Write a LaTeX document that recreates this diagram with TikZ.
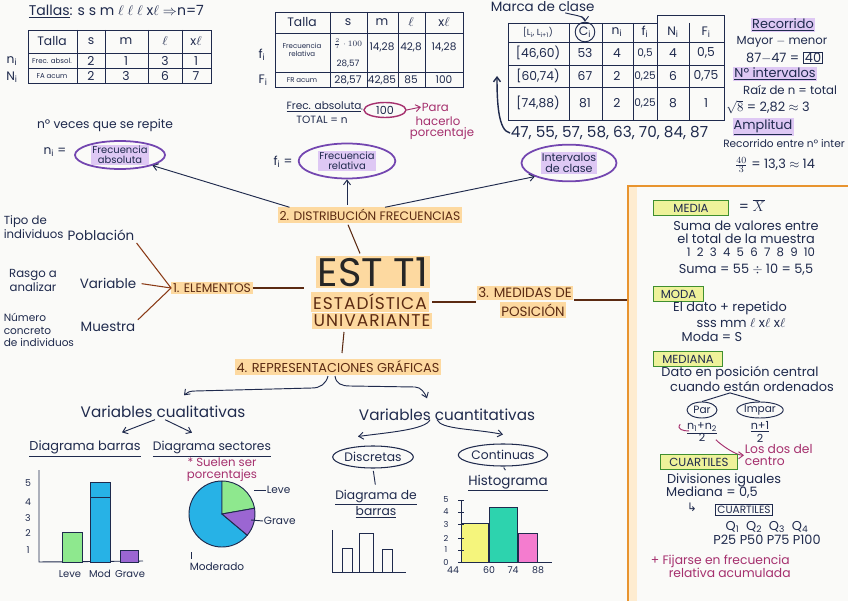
\documentclass[tikz,border=0pt]{standalone}
\usepackage{fontspec}
\setmainfont{Poppins}
\newfontfamily\symfont{DejaVu Sans}
\usetikzlibrary{calc,positioning,shapes.geometric,arrows.meta}

\definecolor{paper}{HTML}{FAFAF8}
\definecolor{inkc}{HTML}{1F2A4D}
\definecolor{brownc}{HTML}{5B2A12}
\definecolor{linec}{HTML}{8A3A16}
\definecolor{hlo}{HTML}{FDD9A0}
\definecolor{purc}{HTML}{7346B0}
\definecolor{purhl}{HTML}{DEC8F4}
\definecolor{pinkc}{HTML}{A5306E}
\definecolor{keyfill}{HTML}{EEF29A}
\definecolor{keyline}{HTML}{3F8F30}
\definecolor{framec}{HTML}{E8942F}
\definecolor{barg}{HTML}{8EE88E}
\definecolor{barb}{HTML}{27B2E6}
\definecolor{barp}{HTML}{9B66D2}
\definecolor{bary}{HTML}{F5F57C}
\definecolor{bart}{HTML}{2DD3AE}
\definecolor{barpk}{HTML}{F47CCF}

\begin{document}
\begin{tikzpicture}[x=0.03cm, y=-0.03cm,
  ink/.style={text=inkc, inner sep=0.5pt, font=\fontsize{10}{12}\selectfont},
  big/.style={ink, font=\fontsize{13}{14}\selectfont},
  boxt/.style={ink, font=\fontsize{11}{12}\selectfont},
  cell/.style={ink, font=\fontsize{10.5}{11}\selectfont},
  tiny/.style={ink, font=\fontsize{6}{6.5}\selectfont, align=center},
  tab/.style={draw=inkc, line width=0.7pt},
  tag/.style={text=brownc, fill=hlo, inner sep=1.5pt, font=\fontsize{10.5}{11}\selectfont},
  bubble/.style={ellipse, draw=purc, line width=1.5pt, inner sep=0pt},
  hlp/.style={ink, fill=purhl, inner sep=1pt},
  note/.style={text=pinkc, inner sep=0.5pt, font=\fontsize{10}{10.5}\selectfont, align=center},
  keybox/.style={draw=keyline, fill=keyfill, line width=0.9pt, text=inkc, inner sep=2pt,
    font=\fontsize{10}{10}\selectfont, anchor=west, minimum height=0.45cm},
  arr/.style={draw=inkc, line width=0.8pt, -{Straight Barb[length=4pt,width=6pt]}},
  parr/.style={arr, draw=pinkc},
  link/.style={draw=linec, line width=0.9pt},
  bar/.style={draw=inkc, line width=0.8pt}
]
\useasboundingbox (0,0) rectangle (848,601);
\fill[paper] (0,0) rectangle (848,601);

% Tallas and table of absolute frequencies
\node[ink, anchor=west, font=\fontsize{12}{13}\selectfont] (tallas) at (28,12) {\underline{Tallas}: s s m $\ell$ $\ell$ $\ell$ x$\ell$ $\Rightarrow$n=7};
\draw[tab] (28,30) rectangle (211,83);
\foreach \y in {53,68} \draw[tab] (28,\y) -- (211,\y);
\foreach \x in {77,105,148,182} \draw[tab] (\x,30) -- (\x,83);
\node[cell] (t1h) at (52,41) {Talla};
\node[tiny] (t1a) at (52,61) {Frec. absol.};
\node[tiny] (t1b) at (52,76) {FA acum};
\foreach \x/\lab/\va/\vb in {91/s/2/2,126/m/1/3,165/$\ell$/3/6,196/x$\ell$/1/7} {
  \node[cell] (t1h\x) at (\x,41) {\lab};
  \node[cell] (t1a\x) at (\x,61) {\va};
  \node[cell] (t1b\x) at (\x,76) {\vb};
}
\node[cell] (ni1) at (12,61) {n\textsubscript{i}};
\node[cell] (Ni1) at (12,77) {N\textsubscript{i}};

% Table of relative frequencies
\draw[tab] (275,12) rectangle (463,87);
\foreach \y in {33,72} \draw[tab] (275,\y) -- (463,\y);
\foreach \x in {330,367,398,425} \draw[tab] (\x,12) -- (\x,87);
\node[cell] (t2h) at (302,22) {Talla};
\foreach \x/\lab in {348/s,382/m,411/$\ell$,444/x$\ell$} \node[cell] (t2h\x) at (\x,22) {\lab};
\node[tiny] (t2a) at (302,50) {Frecuencia\\relativa};
\node[tiny, font=\fontsize{7.5}{8}\selectfont] (t2frac) at (348,44) {$\frac{2}{7}\cdot100$};
\node[tiny, font=\fontsize{7.5}{8}\selectfont] (t2s) at (348,64) {28,57};
\foreach \x/\lab in {382/{14,28},411/{42,8},444/{14,28}} \node[cell, font=\fontsize{9}{10}\selectfont] (t2a\x) at (\x,47) {\lab};
\node[tiny] (t2b) at (302,80) {FR acum};
\foreach \x/\lab in {348/{28,57},382/{42,85},411/85,444/100} \node[cell, font=\fontsize{9}{10}\selectfont] (t2b\x) at (\x,80) {\lab};
\node[cell] (fi1) at (262,55) {f\textsubscript{i}};
\node[cell] (Fi1) at (263,80) {F\textsubscript{i}};
\node[ink, font=\fontsize{9}{10}\selectfont] (fabs) at (324,107) {\underline{Frec. absoluta}};
\node[ink, font=\fontsize{9}{10}\selectfont] (ftot) at (322,120) {TOTAL = n};
\node[ink] (punto) at (362,110) {$\cdot$};
\node[ellipse, draw=pinkc, line width=1.2pt, inner sep=1pt, minimum width=1.26cm, minimum height=0.45cm, text=inkc, font=\fontsize{9.5}{10}\selectfont] (cien) at (385,110) {100};
\node[note, anchor=west] (para) at (421,107) {Para};
\node[note] (hacer) at (438,121) {hacerlo};
\node[note] (porc) at (442,134) {porcentaje};
\draw[parr] (cien.east) -- (para.west);

% Table of class intervals
\draw[tab] (508,23) -- (657,23);
\draw[tab] (657,15) -- (724,15);
\draw[tab] (508,23) -- (508,120) -- (724,120) -- (724,15);
\foreach \y in {42,65,87} \draw[tab] (508,\y) -- (724,\y);
\foreach \x in {569,602,633,689} \draw[tab] (\x,23) -- (\x,120);
\draw[tab] (657,15) -- (657,120);
\node[tiny, font=\fontsize{7.5}{8}\selectfont] (h1) at (538,32) {[L\textsubscript{i}, L\textsubscript{i+1})};
\node[cell, circle, draw=inkc, line width=0.8pt, inner sep=1pt] (ci) at (585,32) {C\textsubscript{i}};
\foreach \x/\lab in {617/n,645/f,673/N,706/F} \node[cell] (h\x) at (\x,32) {\lab\textsubscript{i}};
\foreach \y/\va/\vb/\vc/\vd/\ve/\vf in {53/{[46,60)}/53/4/{0,5}/4/{0,5},76/{[60,74)}/67/2/{0,25}/6/{0,75},103/{[74,88)}/81/2/{0,25}/8/1} {
  \node[cell] (ra\y) at (538,\y) {\va};
  \node[cell] (rb\y) at (585,\y) {\vb};
  \node[cell] (rc\y) at (617,\y) {\vc};
  \node[cell, font=\fontsize{9}{10}\selectfont] (rd\y) at (645,\y) {\vd};
  \node[cell] (re\y) at (673,\y) {\ve};
  \node[cell] (rf\y) at (706,\y) {\vf};
}
\node[ink, anchor=west, font=\fontsize{11.5}{12}\selectfont] (marca) at (490,7) {Marca de clase};
\draw[arr] ($(marca.south east)+(-30,0)$) .. controls +(6,2) and +(0,-6) .. (ci.north);
\node[ink, anchor=west, font=\fontsize{13}{14}\selectfont] (datos) at (510,133) {47, 55, 57, 58, 63, 70, 84, 87};
\coordinate (tab3) at (497,76);
\draw[arr, line width=1.2pt] (datos.west) .. controls +(-12,-2) and +(0,25) .. (tab3);

% Recorrido, intervals and amplitude
\node[hlp, font=\fontsize{11}{12}\selectfont] (reco) at (783,25) {\underline{Recorrido}};
\node[ink] (mayor) at (782,42) {Mayor $-$ menor};
\node[ink, anchor=east, font=\fontsize{11}{12}\selectfont] (resta) at (800,58) {87$-$47 =};
\node[ink, draw=inkc, line width=0.8pt, inner sep=1pt, font=\fontsize{11}{12}\selectfont] (cuar) at (813,58) {40};
\node[hlp, font=\fontsize{11}{12}\selectfont] (nint) at (775,74) {\underline{Nº intervalos}};
\node[ink] (raiz) at (790,90) {Raíz de n = total};
\node[ink, font=\fontsize{11}{12}\selectfont] (sq) at (768,107) {$\sqrt{8}$ = 2,82 $\approx$ 3};
\node[hlp, font=\fontsize{11}{12}\selectfont] (ampl) at (763,127) {\underline{Amplitud}};
\node[ink, font=\fontsize{9}{10}\selectfont] (rentre) at (784,144) {Recorrido entre nº inter};
\node[ink, font=\fontsize{11}{12}\selectfont] (divi) at (775,165) {$\frac{40}{3}$ = 13,3 $\approx$ 14};

% Purple bubbles
\node[ink, font=\fontsize{10.5}{12}\selectfont] (veces) at (105,125) {nº veces que se repite};
\node[cell] (nieq) at (55,152) {n\textsubscript{i} =};
\node[bubble, minimum width=2.7cm, minimum height=0.84cm] (niE) at (120,155) {};
\node[hlp, font=\fontsize{8.5}{8.5}\selectfont, align=center] (niT) at (niE) {Frecuencia\\absoluta};
\node[cell] (fieq) at (283,162) {f\textsubscript{i} =};
\node[bubble, minimum width=2.9cm, minimum height=1.05cm] (fiE) at (347,161) {};
\node[hlp, font=\fontsize{8.5}{8.5}\selectfont, align=center] (fiT) at (fiE) {Frecuencia\\relativa};
\node[bubble, minimum width=2.85cm, minimum height=1.1cm] (intE) at (569,163) {};
\node[hlp, font=\fontsize{9.5}{9.5}\selectfont, align=center] (intT) at (intE) {Intervalos\\de clase};

% Centre of the map
\node[tag] (dist) at (370,215) {2. DISTRIBUCIÓN FRECUENCIAS};
\draw[arr] ($(dist.north west)+(12,0)$) -- (niE.south east);
\draw[arr, shorten <=2pt] (dist.north -| fiE.south) -- (fiE.south);
\draw[arr] ($(dist.north)+(15,0)$) -- (intE.south west);
\node[tag, font=\fontsize{34}{34}\selectfont, text=black!85] (est) at (373,272) {EST T1};
\node[tag, font=\fontsize{14.5}{14}\selectfont\addfontfeature{LetterSpace=6}] (esta) at (370,302) {ESTADÍSTICA};
\node[tag, font=\fontsize{14.5}{14}\selectfont\addfontfeature{LetterSpace=6}] (univ) at (372,321) {UNIVARIANTE};
\draw[link, draw=brownc] ($(dist.south)+(-22,2)$) -- ($(est.north)+(-13,-2)$);
\node[tag] (elem) at (212,288) {1. ELEMENTOS};
\draw[link, draw=brownc, shorten >=6pt] (elem.east) -- (elem.east -| esta.west);
\node[tag, font=\fontsize{11.5}{12}\selectfont] (medid) at (525,293) {3. MEDIDAS DE};
\node[tag, font=\fontsize{11.5}{12}\selectfont] (posic) at (533,310) {POSICIÓN};
\draw[link, draw=brownc, shorten <=3pt] (esta.east) -- (esta.east -| medid.west);
\coordinate (frame) at (628,186);
\draw[link, draw=brownc] (medid.south east) -- (medid.south east -| frame);
\node[tag, font=\fontsize{11}{12}\selectfont] (repr) at (338,367) {4. REPRESENTACIONES GRÁFICAS};
\draw[link, draw=brownc] ($(univ.south)+(-28,3)$) -- ($(repr.north)+(4,-6)$);

% Elements
\node[ink, align=left, anchor=west] (tipo) at (3,227) {Tipo de\\individuos};
\node[ink, font=\fontsize{11.5}{12}\selectfont] (pob) at (101,235) {Población};
\node[ink, align=center] (rasgo) at (33,280) {Rasgo a\\analizar};
\node[ink, font=\fontsize{11.5}{12}\selectfont] (var) at (108,283) {Variable};
\node[ink, align=left, anchor=west, font=\fontsize{9}{11}\selectfont] (num) at (3,330) {Número\\concreto\\de individuos};
\node[ink, font=\fontsize{11.5}{12}\selectfont] (mues) at (108,327) {Muestra};
\draw[link, shorten <=2pt] (pob.south east) -- (elem.west);
\draw[link, shorten <=4pt] (var.east) -- (elem.west);
\draw[link, shorten <=2pt] (mues.north east) -- (elem.west);

% Graphic representations
\node[big] (cual) at (163,412) {Variables cualitativas};
\node[big] (cuan) at (447,415) {Variables cuantitativas};
\draw[arr] ($(repr.south)+(-10,1)$) .. controls +(-2,8) and +(8,0) .. (312,388) -- (195,391) .. controls +(-5,0) and +(3,-3) .. ($(cual.north)+(21,-10)$);
\draw[arr] ($(repr.south)+(-3,1)$) .. controls +(1,8) and +(-8,0) .. (350,386) -- (415,387) .. controls +(6,0) and +(-2,-5) .. ($(cuan.north)+(-20,-10)$);
\node[ink, font=\fontsize{11}{12}\selectfont] (barT) at (85,449) {\underline{Diagrama barras}};
\node[ink, font=\fontsize{10.5}{12}\selectfont] (secT) at (212,449) {\underline{Diagrama sectores}};
\draw[arr] ($(cual.south)+(-8,1)$) -- ($(barT.north)+(37,-8)$);
\draw[arr] ($(cual.south)+(2,1)$) -- ($(secT.north)+(-20,-8)$);

% Bar chart
\draw[bar] (39,470) -- (39,562) -- (143,561);
\foreach \v/\y in {1/550,2/533,3/518,4/502,5/483} \node[ink, font=\fontsize{8}{9}\selectfont] (ya\v) at (28,\y) {\v};
\filldraw[bar, fill=barg] (62,562) rectangle (82,532);
\filldraw[bar, fill=barb] (90,562) rectangle (110,482);
\draw[bar] (90,497) -- (110,497);
\filldraw[bar, fill=barp] (120,562) rectangle (138,550);
\foreach \x/\lab in {70/Leve,100/Mod,130/Grave} \node[ink, font=\fontsize{8.5}{9}\selectfont] (xa\x) at (\x,574) {\lab};

% Pie chart
\coordinate (pie) at (222,514);
\filldraw[bar, fill=barb] (pie) -- ($(pie)+(40:33)$) arc[start angle=40, end angle=270, radius=33] -- cycle;
\filldraw[bar, fill=barg] (pie) -- ($(pie)+(-90:33)$) arc[start angle=-90, end angle=-10, radius=33] -- cycle;
\filldraw[bar, fill=barp] (pie) -- ($(pie)+(-10:33)$) arc[start angle=-10, end angle=40, radius=33] -- cycle;
\node[note] (suelen) at (222,470) {* Suelen ser\\porcentajes};
\node[ink, anchor=west, font=\fontsize{9}{10}\selectfont] (pLeve) at (266,490) {Leve};
\draw[bar] (pLeve.west) -- ++(-12,0);
\node[ink, anchor=west, font=\fontsize{9}{10}\selectfont] (pGrave) at (263,521) {Grave};
\draw[bar] (pGrave.west) -- ++(-12,-1);
\node[ink, font=\fontsize{9}{10}\selectfont] (pMod) at (217,567) {Moderado};
\draw[bar] ($(pMod.north west)+(3,-3)$) -- ++(0,-7);

% Quantitative variables
\node[bubble, draw=inkc, line width=0.9pt, minimum width=2.0cm, minimum height=0.66cm, text=inkc, font=\fontsize{10.5}{11}\selectfont] (disc) at (373,457) {Discretas};
\node[bubble, draw=inkc, line width=0.9pt, minimum width=2.6cm, minimum height=0.66cm, text=inkc, font=\fontsize{10.5}{11}\selectfont] (cont) at (503,455) {Continuas};
\draw[arr] ($(cuan.south)+(-17,-2)$) .. controls +(-4,10) and +(30,-4) .. ($(disc.north)+(-15,-9)$);
\draw[arr] ($(cuan.south)+(-10,-2)$) .. controls +(4,10) and +(-30,-6) .. ($(cont.north)+(0,-9)$);
\node[ink, align=center, font=\fontsize{10.5}{12}\selectfont] (diagB) at (376,504) {\underline{Diagrama de}\\\underline{barras}};
\node[ink, font=\fontsize{11.5}{12}\selectfont] (hist) at (508,483) {\underline{Histograma}};
\draw[bar, shorten <=2pt, shorten >=4pt] (disc.south) -- (diagB.north);
\draw[bar, shorten <=1pt, shorten >=4pt] (cont.south) -- (hist.north);
\draw[bar] (332,530) -- (332,572) -- (406,572);
\foreach \xa/\xb/\h in {342/352/548,359/373/533,382/392/549} \draw[bar] (\xa,572) |- (\xb,\h) -- (\xb,572);

% Histogram
\filldraw[bar, fill=bary] (461,562) rectangle (488,523);
\filldraw[bar, fill=bart] (489,562) rectangle (517,507);
\filldraw[bar, fill=barpk] (518,562) rectangle (537,533);
\draw[bar] (461,500) -- (461,562) -- (552,562);
\foreach \v/\y in {0/562,1/550,2/538,3/524,4/512,5/500} {
  \node[ink, font=\fontsize{7}{8}\selectfont] (yb\v) at (446,\y) {\v};
  \draw[bar] (458,\y) -- (464,\y);
}
\foreach \x/\lab in {453/44,489/60,513/74,538/88} \node[ink, font=\fontsize{8}{8}\selectfont] (xb\lab) at (\x,570) {\lab};

% Measures of position
\fill[hlo!50] (629,187) rectangle (637,601);
\draw[framec, line width=1.8pt] (628,601) -- (frame) -- (848,186);
\node[keybox, minimum width=2.25cm] (media) at (653,208) {MEDIA};
\node[ink, font=\fontsize{12}{12}\selectfont] (xbar) at (752,206) {= $\overline{X}$};
\node[boxt] (suma1) at (746,226) {Suma de valores entre};
\node[boxt] (suma2) at (746,239) {el total de la muestra};
\node[boxt, font=\fontsize{10}{11}\selectfont] (nums) at (751,252) {1 \ 2 \ 3 \ 4 \ 5 \ 6 \ 7 \ 8 \ 9 \ 10};
\node[boxt] (suma3) at (746,270) {Suma = 55 $\div$ 10 = 5,5};
\node[keybox, minimum width=1.5cm] (moda) at (653,294) {MODA};
\node[boxt] (dato) at (730,308) {El dato + repetido};
\node[boxt] (sss) at (741,323) {sss mm $\ell$ x$\ell$ x$\ell$};
\node[boxt] (modas) at (712,337) {Moda = S};
\node[keybox, minimum width=2.07cm] (mediana) at (653,359) {MEDIANA};
\node[boxt] (dpos) at (740,373) {Dato en posición central};
\node[boxt] (orden) at (752,387) {cuando están ordenados};
\node[ellipse, draw=inkc, line width=0.8pt, inner sep=0.5pt, minimum width=0.9cm, minimum height=0.48cm, text=inkc, font=\fontsize{9}{10}\selectfont] (par) at (702,410) {Par};
\node[ellipse, draw=inkc, line width=0.8pt, inner sep=0.5pt, minimum width=1.26cm, minimum height=0.48cm, text=inkc, font=\fontsize{9}{10}\selectfont] (impar) at (760,410) {Impar};
\draw[bar] ($(orden.south)+(-22,0)$) -- (par.north);
\draw[bar] ($(orden.south)+(-22,0)$) -- (impar.north);
\node[ink, align=center, font=\fontsize{9.5}{11}\selectfont] (parf) at (702,432) {\underline{n\textsubscript{1}+n\textsubscript{2}}\\2};
\node[ink, align=center, font=\fontsize{9.5}{11}\selectfont] (imparf) at (760,432) {\underline{n+1}\\2};
\draw[pinkc, line width=0.8pt] ($(parf.north west)+(-6,3)$) .. controls +(-4,5) and +(-6,0) .. ($(parf.west)+(3,-1)$);
\node[note, align=left, anchor=north west, font=\fontsize{10.5}{10}\selectfont] (dos) at (744,444) {Los dos del\\centro};
\draw[parr] ($(parf.south east)+(-2,-3)$) .. controls +(6,6) and +(-8,0) .. (dos.west);
\node[keybox, minimum width=2.3cm] (cuart) at (660,462) {CUARTILES};
\node[boxt] (divis) at (724,480) {Divisiones iguales};
\node[boxt] (medi5) at (712,493) {Mediana = 0,5};
\node[ink, font=\symfont\fontsize{10}{11}\selectfont] (flecha) at (692,507) {↳};
\node[ink, draw=inkc, line width=0.8pt, inner sep=1.5pt, font=\fontsize{9}{10}\selectfont] (cuart2) at (744,510) {CUARTILES};
\node[boxt] (qs) at (767,527) {Q\textsubscript{1} \ Q\textsubscript{2} \ Q\textsubscript{3} \ Q\textsubscript{4}};
\node[boxt] (ps) at (767,540) {P25 P50 P75 P100};
\node[note, anchor=west, font=\fontsize{10.5}{11}\selectfont] (fij1) at (650,561) {+ Fijarse en frecuencia};
\node[note, anchor=west, font=\fontsize{10.5}{11}\selectfont] (fij2) at (668,573) {relativa acumulada};
\end{tikzpicture}
\end{document}
